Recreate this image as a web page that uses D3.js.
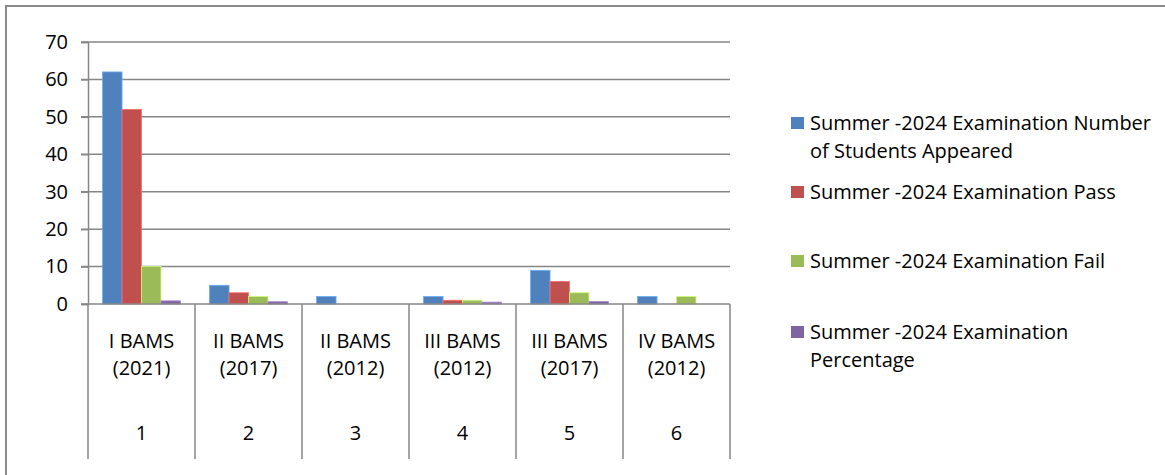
<!DOCTYPE html>
<html>
<head>
<meta charset="utf-8">
<script src="https://cdn.jsdelivr.net/npm/d3@7"></script>
<style>
  body { margin: 0; background: #fff; }
  svg { display: block; font-family: "Open Sans", sans-serif; }
</style>
</head>
<body>
<div id="chart"></div>
<script>
// chart data
var courses = ["I BAMS (2021)", "II BAMS (2017)", "II BAMS (2012)", "III BAMS (2012)", "III BAMS (2017)", "IV BAMS (2012)"];
var serialNo = ["1", "2", "3", "4", "5", "6"];
var appeared = [62, 5, 2, 2, 9, 2];
var passed = [52, 3, 0, 1, 6, 0];
var failed = [10, 2, 0, 1, 3, 2];
var percentage = [0.84, 0.6, 0, 0.5, 0.67, 0];
var seriesNames = [
  "Summer -2024 Examination Number of Students Appeared",
  "Summer -2024 Examination Pass",
  "Summer -2024 Examination Fail",
  "Summer -2024 Examination Percentage"
];
var yTicks = [0, 10, 20, 30, 40, 50, 60, 70];

var colors = ["#4f81bd", "#c0504d", "#9bbb59", "#8064a2"];
var allSeries = [appeared, passed, failed, percentage];

var W = 1165, H = 475;
var plot = { left: 88, right: 730, top: 42, bottom: 304 };
var fontSize = "20px";

var svg = d3.select("#chart").append("svg")
    .attr("width", W)
    .attr("height", H);

// outer chart border (runs off the right/bottom of the picture)
svg.append("rect")
    .attr("x", 6).attr("y", 6)
    .attr("width", W + 10).attr("height", H + 10)
    .attr("fill", "none")
    .attr("stroke", "#8a8a8a")
    .attr("stroke-width", 2);

var y = d3.scaleLinear().domain([0, 70]).range([plot.bottom, plot.top]);
var x0 = d3.scaleBand().domain(d3.range(courses.length)).range([plot.left, plot.right]);
// gap width 150% -> 4 bars + 1.5 bar of gap per category
var barW = x0.bandwidth() / 5.5;
var x1 = d3.scaleBand().domain(d3.range(4)).range([0, barW * 4]).padding(0);

// gridlines
svg.append("g").selectAll("line").data(yTicks.filter(function (d) { return d > 0; })).enter()
    .append("line")
    .attr("x1", plot.left - 7).attr("x2", plot.right)
    .attr("y1", function (d) { return y(d); })
    .attr("y2", function (d) { return y(d); })
    .attr("stroke", "#868686")
    .attr("stroke-width", 1.5);

// y axis
var yAxis = svg.append("g")
    .attr("transform", "translate(" + plot.left + ",0)")
    .call(d3.axisLeft(y).tickValues(yTicks).tickSize(7).tickPadding(13));
yAxis.select(".domain").attr("stroke", "#868686").attr("stroke-width", 1.5);
yAxis.selectAll(".tick line").attr("stroke", "#868686").attr("stroke-width", 1.5);
yAxis.selectAll(".tick text")
    .attr("fill", "#000")
    .style("font-size", fontSize)
    .style("font-family", "'Open Sans', sans-serif");

// bars
var groups = svg.append("g").selectAll("g").data(d3.range(courses.length)).enter()
    .append("g")
    .attr("transform", function (i) { return "translate(" + (x0(i) + (x0.bandwidth() - barW * 4) / 2) + ",0)"; });

groups.selectAll("rect")
    .data(function (i) { return allSeries.map(function (s, k) { return { k: k, v: s[i] }; }); })
    .enter().append("rect")
    .attr("x", function (d) { return x1(d.k); })
    .attr("y", function (d) { return y(d.v); })
    .attr("width", barW)
    .attr("height", function (d) { return y(0) - y(d.v); })
    .attr("fill", function (d) { return colors[d.k]; })
    .attr("stroke", function (d) { return d.v > 0 ? d3.color(colors[d.k]).brighter(0.8) : "none"; })
    .attr("stroke-width", 0.8);

// x axis line
svg.append("line")
    .attr("x1", plot.left - 7).attr("x2", plot.right)
    .attr("y1", y(0)).attr("y2", y(0))
    .attr("stroke", "#868686")
    .attr("stroke-width", 1.5);

// category separators
var seps = d3.range(courses.length + 1).map(function (i) { return i < courses.length ? x0(i) : plot.right; });
svg.append("g").selectAll("line").data(seps).enter()
    .append("line")
    .attr("x1", function (d) { return d; }).attr("x2", function (d) { return d; })
    .attr("y1", y(0)).attr("y2", 459)
    .attr("stroke", "#868686")
    .attr("stroke-width", 1.5);

// category labels (two lines + serial number)
var labels = svg.append("g").selectAll("g").data(d3.range(courses.length)).enter()
    .append("g")
    .attr("transform", function (i) { return "translate(" + (x0(i) + x0.bandwidth() / 2) + ",0)"; });

labels.append("text")
    .attr("text-anchor", "middle")
    .style("font-size", fontSize)
    .each(function (i) {
      var parts = courses[i].split(" (");
      d3.select(this).append("tspan").attr("x", 0).attr("y", 348).text(parts[0]);
      d3.select(this).append("tspan").attr("x", 0).attr("y", 375).text("(" + parts[1]);
    });

labels.append("text")
    .attr("text-anchor", "middle")
    .attr("y", 440)
    .style("font-size", fontSize)
    .text(function (i) { return serialNo[i]; });

// legend
var legendRows = [
  { lines: ["Summer -2024 Examination Number", "of Students Appeared"], y: 130 },
  { lines: ["Summer -2024 Examination Pass"], y: 199 },
  { lines: ["Summer -2024 Examination Fail"], y: 268 },
  { lines: ["Summer -2024 Examination", "Percentage"], y: 339 }
];

var legend = svg.append("g").selectAll("g").data(legendRows).enter()
    .append("g");

legend.append("rect")
    .attr("x", 791)
    .attr("y", function (d) { return d.y - 13; })
    .attr("width", 13).attr("height", 12)
    .attr("fill", function (d, i) { return colors[i]; });

legend.append("text")
    .style("font-size", fontSize)
    .attr("fill", "#000")
    .each(function (d, i) {
      var t = d3.select(this);
      d.lines.forEach(function (line, j) {
        t.append("tspan").attr("x", 810).attr("y", d.y + j * 28).text(line);
      });
    });
</script>
</body>
</html>
